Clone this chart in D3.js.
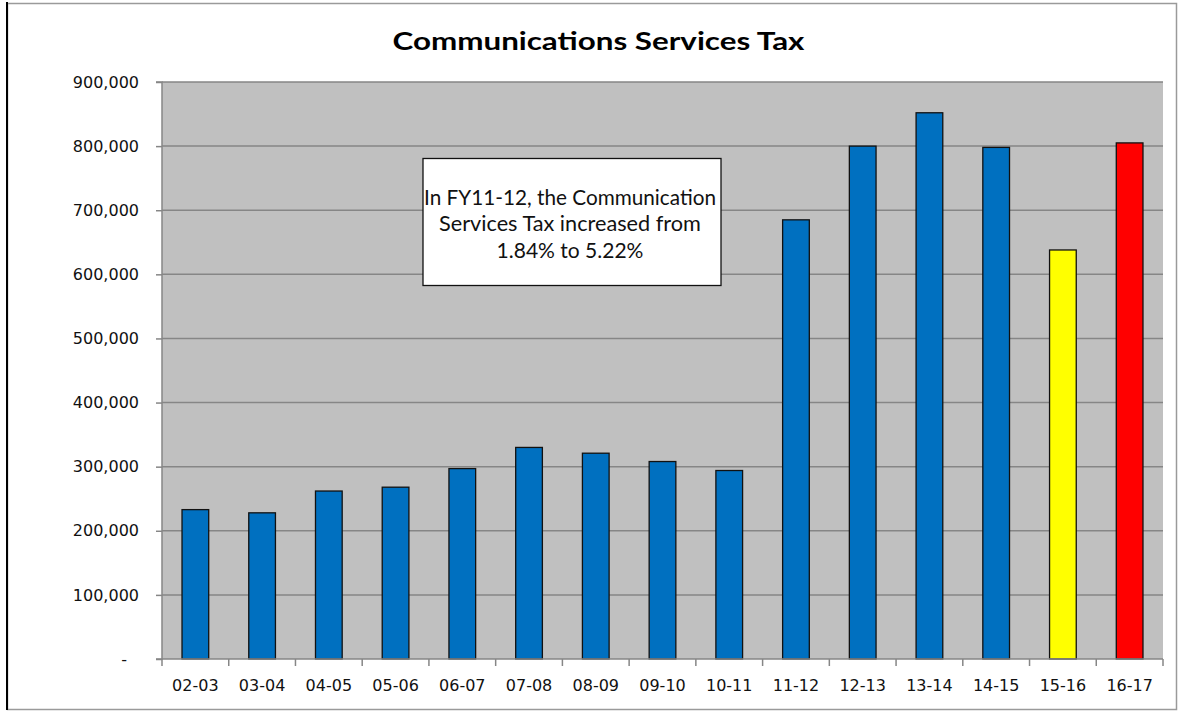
<!DOCTYPE html>
<html>
<head>
<meta charset="utf-8">
<script src="https://cdn.jsdelivr.net/npm/d3@7"></script>
<style>
  html, body { margin: 0; padding: 0; background: #fff; }
  svg { display: block; }
</style>
</head>
<body>
<svg id="chart" width="1178" height="712"></svg>
<script>
// Fiscal years shown on the category axis
const categories = ["02-03","03-04","04-05","05-06","06-07","07-08","08-09","09-10","10-11","11-12","12-13","13-14","14-15","15-16","16-17"];
// Communications Services Tax revenue per fiscal year
const revenue = [233000, 228000, 262000, 268000, 297000, 330000, 321000, 308000, 294000, 685000, 800000, 852000, 798000, 638000, 805000];
// Bar fill per year (last two years highlighted)
const barColors = ["#0070C0","#0070C0","#0070C0","#0070C0","#0070C0","#0070C0","#0070C0","#0070C0","#0070C0","#0070C0","#0070C0","#0070C0","#0070C0","#FFFF00","#FF0000"];
// Value axis ticks
const yTicks = [0, 100000, 200000, 300000, 400000, 500000, 600000, 700000, 800000, 900000];
const title = "Communications Services Tax";
const noteLines = ["In FY11-12, the Communication", "Services Tax increased from", "1.84% to 5.22%"];

const svg = d3.select("#chart");
const W = 1178, H = 712;
const plot = { left: 162, right: 1163, top: 82, bottom: 659 };

// stretch a centred text element horizontally to a given width
function fitWidth(sel, cx, target) {
  sel.each(function () {
    const len = this.getComputedTextLength();
    const k = target / len;
    d3.select(this).attr("x", 0)
      .attr("transform", `translate(${cx},0) scale(${k},1)`);
  });
}

// outer frame
svg.append("rect").attr("x", 7.5).attr("y", 3.5).attr("width", W - 9).attr("height", H - 6)
  .attr("fill", "#fff").attr("stroke", "#9a9a9a").attr("stroke-width", 1.5);
svg.append("line").attr("x1", 7).attr("x2", 7).attr("y1", 2).attr("y2", H - 2)
  .attr("stroke", "#000").attr("stroke-width", 2);

const x = d3.scaleBand().domain(categories).range([plot.left, plot.right])
  .paddingInner(0.6).paddingOuter(0.3);
const y = d3.scaleLinear().domain([0, 900000]).range([plot.bottom, plot.top]);

// plot background
svg.append("rect").attr("x", plot.left).attr("y", plot.top)
  .attr("width", plot.right - plot.left).attr("height", plot.bottom - plot.top)
  .attr("fill", "#C0C0C0");

// horizontal gridlines
svg.append("g").selectAll("line").data(yTicks.filter(d => d > 0)).join("line")
  .attr("x1", plot.left).attr("x2", plot.right)
  .attr("y1", d => y(d)).attr("y2", d => y(d))
  .attr("stroke", "#868686").attr("stroke-width", 1.5);

// bars
svg.append("g").selectAll("rect").data(categories).join("rect")
  .attr("x", d => x(d))
  .attr("y", (d, i) => y(revenue[i]))
  .attr("width", x.bandwidth())
  .attr("height", (d, i) => y(0) - y(revenue[i]))
  .attr("fill", (d, i) => barColors[i])
  .attr("stroke", "#111").attr("stroke-width", 1.3);

const tickFont = "'DejaVu Sans', sans-serif";

// value axis
const fmt = d3.format(",");
const yAxis = d3.axisLeft(y).tickValues(yTicks).tickSize(6).tickPadding(17)
  .tickFormat(d => d === 0 ? "-" : fmt(d));
const gy = svg.append("g").attr("transform", `translate(${plot.left},0)`).call(yAxis);
gy.select(".domain").attr("stroke", "#868686").attr("stroke-width", 1.5).attr("d", `M-6,${plot.top}H0V${plot.bottom}H-6`);
gy.selectAll(".tick line").attr("stroke", "#868686").attr("stroke-width", 1.5);
gy.selectAll(".tick text").attr("font-family", tickFont).attr("font-size", 16)
  .attr("fill", "#111");
gy.selectAll(".tick").filter(d => d === 0).select("text").attr("dx", -12);

// category axis with ticks on category boundaries
const gx = svg.append("g").attr("transform", `translate(0,${plot.bottom})`);
gx.append("line").attr("x1", plot.left).attr("x2", plot.right).attr("y1", 0).attr("y2", 0)
  .attr("stroke", "#868686").attr("stroke-width", 1.5);
const step = x.step();
const boundaries = d3.range(categories.length + 1).map(i => plot.left + i * step);
gx.selectAll("line.b").data(boundaries).join("line").attr("class", "b")
  .attr("x1", d => d).attr("x2", d => d).attr("y1", 0).attr("y2", 7)
  .attr("stroke", "#868686").attr("stroke-width", 1.5);
gx.selectAll("text").data(categories).join("text")
  .attr("x", d => x(d) + x.bandwidth() / 2).attr("y", 32)
  .attr("text-anchor", "middle").attr("font-family", tickFont).attr("font-size", 16)
  .attr("fill", "#111").text(d => d);

// title
svg.append("text").attr("y", 50).attr("text-anchor", "middle")
  .attr("font-family", "Lato, 'Open Sans', sans-serif").attr("font-weight", "bold")
  .attr("font-size", 25).attr("fill", "#000").text(title)
  .call(fitWidth, 598.5, 412);

// annotation box
const note = svg.append("g");
note.append("rect").attr("x", 423).attr("y", 158.5).attr("width", 298).attr("height", 127)
  .attr("fill", "#fff").attr("stroke", "#111").attr("stroke-width", 1.3);
const noteWidths = [292, 262, 147];
note.selectAll("text").data(noteLines).join("text")
  .attr("y", (d, i) => 205 + i * 26.5).attr("text-anchor", "middle")
  .attr("font-family", "Lato, sans-serif").attr("font-size", 20.5).attr("fill", "#111")
  .text(d => d)
  .each(function (d, i) { d3.select(this).call(fitWidth, 570, noteWidths[i]); });
</script>
</body>
</html>
